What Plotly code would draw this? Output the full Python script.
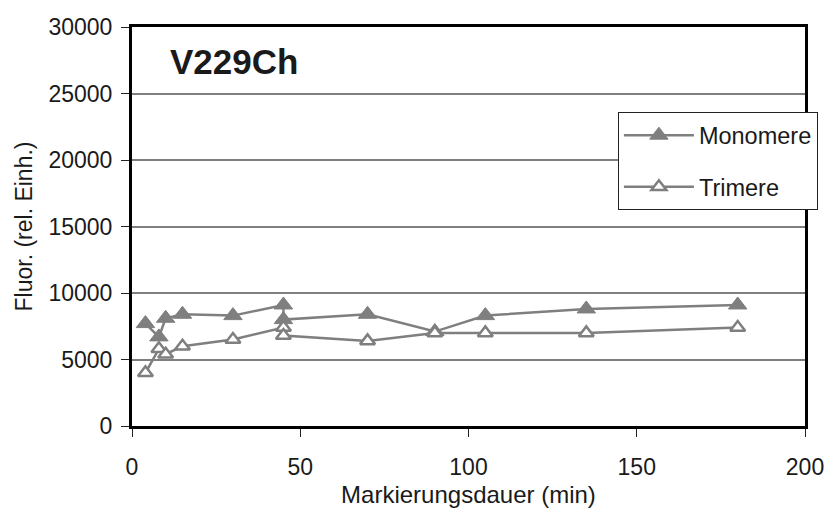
import plotly.graph_objects as go

# Labeling time (min) and fluorescence readings (relative units)
minutes = [4, 8, 10, 15, 30, 45, 45, 70, 90, 105, 135, 180]
monomere = [7700, 6700, 8100, 8400, 8300, 9100, 8000, 8400, 7100, 8300, 8800, 9100]
trimere = [4000, 5800, 5400, 6000, 6500, 7400, 6800, 6400, 7000, 7000, 7000, 7400]

x_ticks = [0, 50, 100, 150, 200]
y_ticks = [0, 5000, 10000, 15000, 20000, 25000, 30000]
y_tick_text = ["0", "5000", "10000", "15000", "20000", "25000", "30000"]

GREY = "#7f7f7f"
FONT = "Liberation Sans, Arial, sans-serif"
TXT = "#1a1a1a"

fig = go.Figure()
fig.add_trace(go.Scatter(
    x=minutes, y=monomere, name="Monomere", mode="lines+markers",
    legendgroup="m",
    line=dict(color=GREY, width=2.5),
    marker=dict(symbol="triangle-up", size=16, color=GREY,
                line=dict(color=GREY, width=1)),
))
fig.add_trace(go.Scatter(
    x=minutes, y=trimere, name="Trimere", mode="lines+markers",
    legendgroup="t",
    line=dict(color=GREY, width=2.5),
    marker=dict(symbol="triangle-up", size=13, color="white",
                line=dict(color=GREY, width=2.5)),
))

fig.add_annotation(
    x=0.053, y=0.913, xref="paper", yref="paper",
    xanchor="left", yanchor="middle", showarrow=False,
    text="<b>V229Ch</b>", font=dict(family=FONT, size=35, color=TXT),
)

fig.update_layout(
    width=836, height=516,
    margin=dict(l=132, r=28, t=27, b=87),
    paper_bgcolor="white", plot_bgcolor="white",
    font=dict(family=FONT, size=23, color=TXT),
    legend=dict(
        x=0.722, y=0.786, xanchor="left", yanchor="top",
        bgcolor="white", bordercolor="#222", borderwidth=1,
        font=dict(family=FONT, size=23.5, color=TXT),
        tracegroupgap=18, itemwidth=70,
    ),
    showlegend=True,
)
fig.update_xaxes(
    range=[0, 200], tickvals=x_ticks, ticks="outside", ticklen=8,
    tickcolor="#222", showgrid=False, zeroline=False,
    showline=True, linecolor="black", linewidth=3, mirror=True,
    ticklabelstandoff=10,
    title=dict(text="Markierungsdauer (min)", standoff=8,
               font=dict(family=FONT, size=24, color=TXT)),
)
fig.update_yaxes(
    range=[0, 30000], tickvals=y_ticks, ticktext=y_tick_text,
    ticks="outside", ticklen=8,
    tickcolor="#222", showgrid=True, gridcolor=GREY, gridwidth=1.5,
    zeroline=False, showline=True, linecolor="black", linewidth=3,
    mirror=True, ticklabelstandoff=4,
    title=dict(text="Fluor. (rel. Einh.)", standoff=10,
               font=dict(family=FONT, size=23, color=TXT)),
)

fig.write_html("out.html")
